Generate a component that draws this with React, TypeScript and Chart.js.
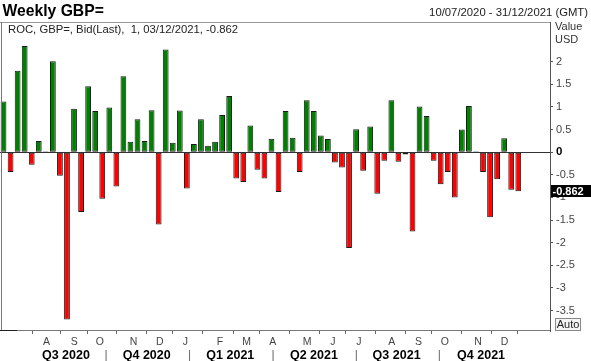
import React, { useEffect, useRef } from "react";
import { Chart, registerables } from "chart.js";

Chart.register(...registerables);

const FONT = '"Liberation Sans", Arial, Helvetica, sans-serif';

const TITLE = "Weekly GBP=";
const RANGE_TEXT = "10/07/2020 - 31/12/2021 (GMT)";
const LEGEND_TEXT = "ROC, GBP=, Bid(Last),  1, 03/12/2021, -0.862";
const AXIS_TITLE = ["Value", "USD"];
const LAST_VALUE = -0.862;

// weekly rate-of-change values, 10/07/2020 .. 03/12/2021
const rocValues = [
  1.12, -0.44, 1.8, 2.35, -0.28, 0.25, 0.02, 2.01, -0.52, -3.7,
  0.96, -1.32, 1.46, 0.91, -1.03, 0.99, -0.76, 1.68, 0.23, 0.73,
  0.25, 0.93, -1.6, 2.27, 0.21, 0.92, -0.8, 0.18, 0.73, 0.14,
  0.23, 0.82, 1.24, -0.58, -0.66, 0.59, -0.39, -0.58, 0.3, -0.88,
  0.91, 0.32, -0.44, 1.15, 0.91, 0.37, 0.29, -0.23, -0.34, -2.12,
  0.51, -0.41, 0.57, -0.92, -0.19, 1.15, -0.21, -0.05, -1.75, 1.01,
  0.8, -0.19, -0.71, -0.44, -1.0, 0.5, 1.02, 0.02, -0.44, -1.44,
  -0.6, 0.31, -0.83, -0.862,
];

// weekly slots to 31/12/2021 (last 4 empty)
const WEEK_SLOTS = 78;
const weekLabels: string[] = [];
{
  const start = new Date(Date.UTC(2020, 6, 10));
  for (let i = 0; i < WEEK_SLOTS; i++) {
    const d = new Date(start.getTime() + i * 7 * 86400000);
    weekLabels.push(
      String(d.getUTCDate()).padStart(2, "0") + "/" + String(d.getUTCMonth() + 1).padStart(2, "0") + "/" + d.getUTCFullYear()
    );
  }
}

// month tick labels (positions in week-slot units)
const monthTickLabels = ["A", "S", "O", "N", "D", "J", "F", "M", "A", "M", "J", "J", "A", "S", "O", "N", "D"];
const monthTickPos = [4.08, 8.25, 12.12, 17.18, 21.14, 25.01, 30.22, 34.23, 38.15, 43.34, 47.22, 51.14, 56.1, 60.12, 64.09, 69.1, 73.1];

const quarterLabels = ["Q3 2020", "Q4 2020", "Q1 2021", "Q2 2021", "Q3 2021", "Q4 2021"];
const quarterPos = [5.88, 18.49, 31.53, 44.57, 57.47, 70.65];
const quarterSepPos = [12.16, 25.16, 38.2, 51.19, 64.13];

const yTickValues = [-3.5, -3, -2.5, -2, -1.5, -1, -0.5, 0, 0.5, 1, 1.5, 2];
const Y_MIN = -3.952;
const Y_MAX = 2.878;

const quarterTicks = [
  ...quarterPos.map((p, i) => ({ pos: p, label: quarterLabels[i], sep: false })),
  ...quarterSepPos.map((p) => ({ pos: p, label: "|", sep: true })),
].sort((a, b) => a.pos - b.pos);

export default function App() {
  const ref = useRef<HTMLCanvasElement>(null);

  useEffect(() => {
    const canvas = ref.current;
    if (!canvas) return;

    const overlay = {
      id: "overlay",
      afterDraw(chart: any) {
        const ctx = chart.ctx as CanvasRenderingContext2D;
        const a = chart.chartArea;
        const bottom = Math.round(a.bottom);
        ctx.save();
        // frame
        ctx.lineWidth = 1;
        ctx.strokeStyle = "#999";
        ctx.beginPath();
        ctx.moveTo(0, a.top + 0.5);
        ctx.lineTo(a.right, a.top + 0.5);
        ctx.stroke();
        ctx.strokeStyle = "#777";
        ctx.beginPath();
        ctx.moveTo(0, bottom - 0.5);
        ctx.lineTo(a.right, bottom - 0.5);
        ctx.stroke();
        ctx.beginPath();
        ctx.moveTo(1.5, a.top);
        ctx.lineTo(1.5, bottom);
        ctx.stroke();
        ctx.strokeStyle = "#222";
        ctx.beginPath();
        ctx.moveTo(0, bottom - 0.5);
        ctx.lineTo(17, bottom - 0.5);
        ctx.stroke();

        // texts
        ctx.textBaseline = "alphabetic";
        ctx.fillStyle = "#000";
        ctx.textAlign = "left";
        ctx.font = `bold 15.7px ${FONT}`;
        ctx.fillText(TITLE, 2.5, 15.5);

        ctx.fillStyle = "#222";
        ctx.font = `11.3px ${FONT}`;
        ctx.textAlign = "right";
        ctx.fillText(RANGE_TEXT, 588, 16);
        ctx.textAlign = "left";
        ctx.fillText(LEGEND_TEXT, 8, 33);

        ctx.fillStyle = "#333";
        ctx.font = `11px ${FONT}`;
        ctx.fillText(AXIS_TITLE[0], 555, 30);
        ctx.fillText(AXIS_TITLE[1], 555, 43);

        // last value marker
        const y = chart.scales.y.getPixelForValue(LAST_VALUE);
        ctx.fillStyle = "#000";
        ctx.fillRect(551, Math.round(y) - 6, 40, 12);
        ctx.fillStyle = "#fff";
        ctx.font = `bold 11px ${FONT}`;
        ctx.textBaseline = "middle";
        ctx.fillText(LAST_VALUE.toFixed(3), 552.5, Math.round(y) + 0.5);

        // Auto button
        ctx.fillStyle = "#f4f4f4";
        ctx.fillRect(555.5, 318.5, 25, 12);
        ctx.strokeStyle = "#888";
        ctx.strokeRect(555.5, 318.5, 25, 12);
        ctx.fillStyle = "#222";
        ctx.font = `11px ${FONT}`;
        ctx.textAlign = "center";
        ctx.fillText("Auto", 568, 325);
        ctx.restore();
      },
    };

    const chart = new Chart(canvas, {
      type: "bar",
      data: {
        labels: weekLabels,
        datasets: [
          {
            data: rocValues,
            backgroundColor: rocValues.map((v) => (v >= 0 ? "#008000" : "#ff0000")),
            borderColor: "#1a1a1a",
            borderWidth: 1,
            borderSkipped: false,
            barPercentage: 0.82,
            categoryPercentage: 1,
            xAxisID: "x",
            yAxisID: "y",
          } as any,
        ],
      },
      options: {
        responsive: false,
        animation: false,
        layout: { padding: { top: 22, left: 0, right: 0, bottom: 0 } },
        plugins: { legend: { display: false }, tooltip: { enabled: false } },
        scales: {
          x: { type: "category", display: false, offset: true },
          xm: {
            type: "linear",
            position: "bottom",
            weight: 1,
            min: -0.5,
            max: WEEK_SLOTS - 0.5,
            afterBuildTicks: (s: any) => {
              s.ticks = monthTickPos.map((v) => ({ value: v }));
            },
            afterFit: (s: any) => {
              s.height = 17;
            },
            grid: { drawOnChartArea: false, drawTicks: true, tickLength: 3, tickColor: "#666" },
            border: { display: false },
            ticks: {
              autoSkip: false,
              maxRotation: 0,
              padding: 1.5,
              color: "#444",
              font: { family: FONT, size: 10.5 },
              callback: (_v: any, i: number) => monthTickLabels[i],
            },
          },
          xq: {
            type: "linear",
            position: "bottom",
            weight: 2,
            min: -0.5,
            max: WEEK_SLOTS - 0.5,
            afterBuildTicks: (s: any) => {
              s.ticks = quarterTicks.map((q) => ({ value: q.pos }));
            },
            afterFit: (s: any) => {
              s.height = 13;
            },
            grid: { display: false, drawTicks: false },
            border: { display: false },
            ticks: {
              autoSkip: false,
              maxRotation: 0,
              padding: 0.5,
              color: (c: any) => (quarterTicks[c.index]?.sep ? "#666" : "#000"),
              font: (c: any) =>
                quarterTicks[c.index]?.sep
                  ? { family: FONT, size: 12 }
                  : { family: FONT, size: 12.5, weight: "bold" },
              callback: (_v: any, i: number) => quarterTicks[i].label,
            },
          },
          y: {
            position: "right",
            min: Y_MIN,
            max: Y_MAX,
            afterBuildTicks: (s: any) => {
              s.ticks = yTickValues.map((v) => ({ value: v }));
            },
            afterFit: (s: any) => {
              s.width = 41;
            },
            grid: {
              drawOnChartArea: true,
              drawTicks: true,
              tickLength: 3,
              color: (c: any) => (c.tick && c.tick.value === 0 ? "#333" : "rgba(0,0,0,0)"),
              tickColor: "#555",
            },
            border: { display: true, color: "#555" },
            ticks: {
              padding: 3,
              color: (c: any) => (c.tick && c.tick.value === 0 ? "#000" : "#444"),
              font: (c: any) =>
                c.tick && c.tick.value === 0
                  ? { family: FONT, size: 11.5, weight: "bold" }
                  : { family: FONT, size: 11 },
              callback: (v: any) => String(v),
            },
          },
        } as any,
      },
      plugins: [overlay],
    });

    return () => chart.destroy();
  }, []);

  return (
    <div style={{ position: "absolute", left: 0, top: 0, width: 591, height: 361, background: "#fff" }}>
      <canvas ref={ref} width={591} height={361} style={{ display: "block", width: 591, height: 361 }} />
    </div>
  );
}
